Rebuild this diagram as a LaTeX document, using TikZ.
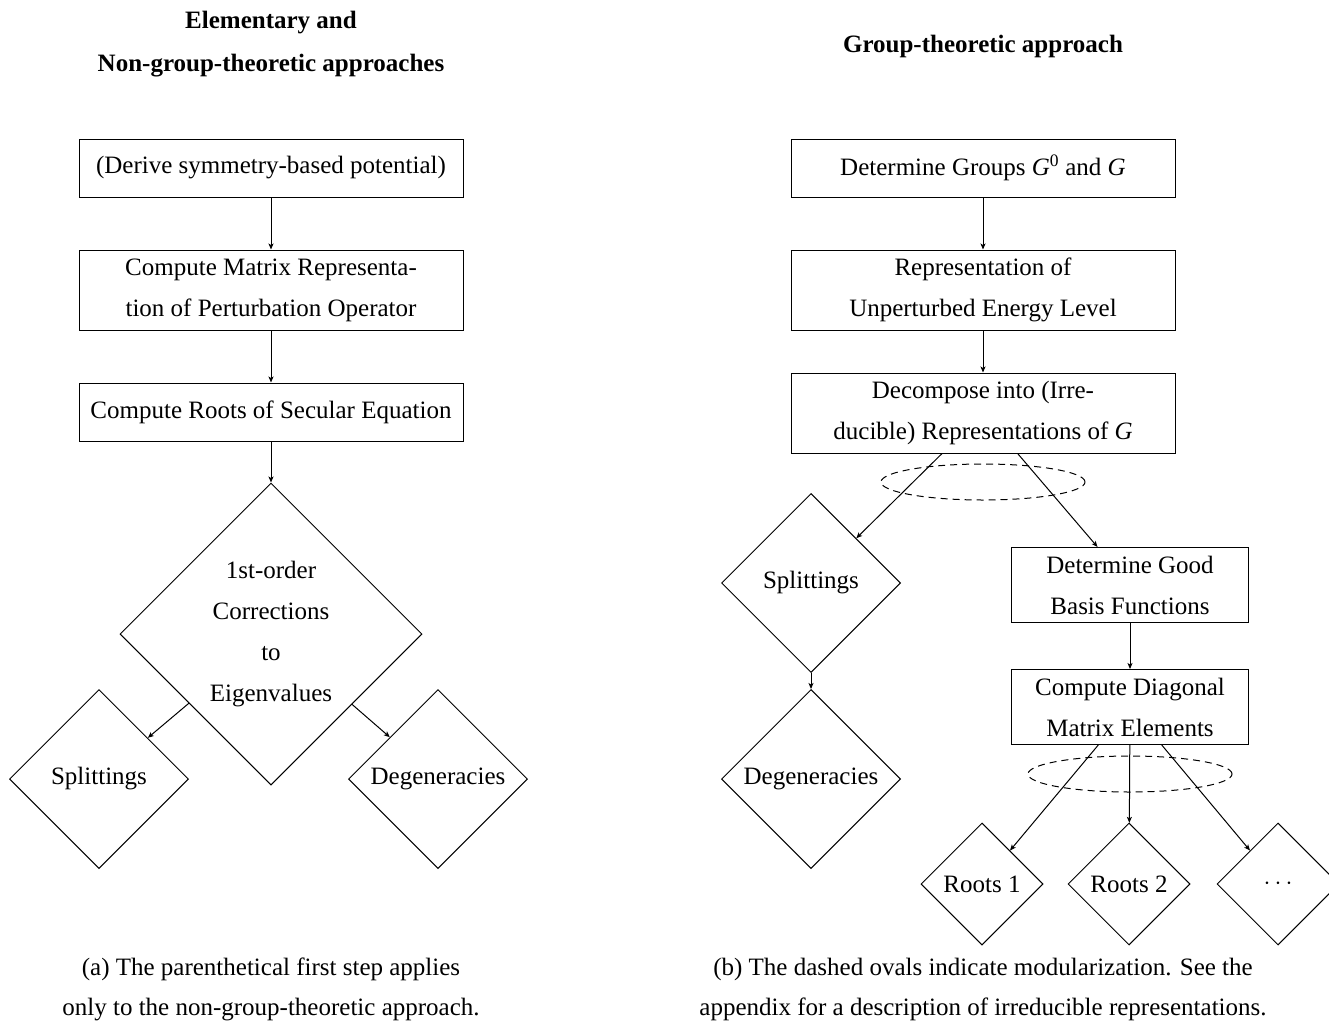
\documentclass[tikz,border=0pt]{standalone}
\usepackage{fontspec}
\setmainfont{Liberation Serif}
\usetikzlibrary{shapes.geometric,arrows.meta}
\begin{document}
\begin{tikzpicture}[x=1pt,y=-1pt,
  every node/.style={font=\fontsize{25}{41}\selectfont, inner sep=0pt},
  box/.style={draw, line width=1pt, minimum width=384pt, minimum height=58pt, align=center},
  tallbox/.style={box, minimum height=80pt},
  smallbox/.style={draw, line width=1pt, minimum width=237pt, minimum height=75pt, align=center},
  dia/.style={draw, diamond, line width=1pt, aspect=1, align=center},
  bigdia/.style={dia, minimum width=302pt, minimum height=302pt},
  middia/.style={dia, minimum width=179pt, minimum height=179pt},
  tinydia/.style={dia, minimum width=122pt, minimum height=122pt},
  oval/.style={draw, ellipse, line width=1pt, dash pattern=on 7pt off 5pt, minimum width=204pt, minimum height=36pt},
  arr/.style={-{Stealth[length=6pt,width=5pt,inset=1.5pt]}, line width=1pt},
  title/.style={font=\fontsize{25}{43}\selectfont\bfseries, align=center},
  caption/.style={align=center, font=\fontsize{25}{40}\selectfont}]
\useasboundingbox (0,0) rectangle (1329,1020);

% titles
\node[title] (T1) at (271,44) {Elementary and\\Non-group-theoretic approaches};
\node[title] (T2) at (983,46) {Group-theoretic approach};

% left column
\node[box] (L1) at (271,168) {(Derive symmetry-based potential)};
\node[tallbox] (L2) at (271,290) {Compute Matrix Representa-\\tion of Perturbation Operator};
\node[box] (L3) at (271,412) {Compute Roots of Secular Equation};
\node[bigdia] (L4) at (271,634) {1st-order\\Corrections\\to\\Eigenvalues};
\node[middia] (L5) at (99,779) {Splittings};
\node[middia] (L6) at (438,779) {Degeneracies};

\draw[arr] (L1) -- (L2);
\draw[arr] (L2) -- (L3);
\draw[arr] (L3) -- (L4);
\draw[arr] (L4) -- (L5);
\draw[arr] (L4) -- (L6);

% right column
\node[box] (R1) at (983,168) {Determine Groups \textit{G}\textsuperscript{0} and \textit{G}};
\node[tallbox] (R2) at (983,290) {Representation of\\Unperturbed Energy Level};
\node[tallbox] (R3) at (983,413) {Decompose into (Irre-\\ducible) Representations of \textit{G}};
\node[middia] (R4) at (811,583) {Splittings};
\node[middia] (R5) at (811,779) {Degeneracies};
\node[smallbox] (R6) at (1130,585) {Determine Good\\Basis Functions};
\node[smallbox] (R7) at (1130,707) {Compute Diagonal\\Matrix Elements};
\node[tinydia] (R8) at (982,884) {Roots 1};
\node[tinydia] (R9) at (1129,884) {Roots 2};
\node[tinydia] (R10) at (1278,884) {$\cdots$};

\node[oval] (E1) at (983,482) {};
\node[oval] (E2) at (1130,774) {};

\draw[arr] (R1) -- (R2);
\draw[arr] (R2) -- (R3);
\draw[arr] (R3) -- (R4);
\draw[arr] (R3) -- (R6);
\draw[arr] (R4) -- (R5);
\draw[arr] (R6) -- (R7);
\draw[arr] (R7) -- (R8);
\draw[arr] (R7) -- (R9);
\draw[arr] (R7) -- (R10);

% captions
\node[caption] (C1) at (271,989) {(a) The parenthetical first step applies\\only to the non-group-theoretic approach.};
\node[caption] (C2) at (983,989) {(b) The dashed ovals indicate modularization. See the\\appendix for a description of irreducible representations.};
\end{tikzpicture}
\end{document}
